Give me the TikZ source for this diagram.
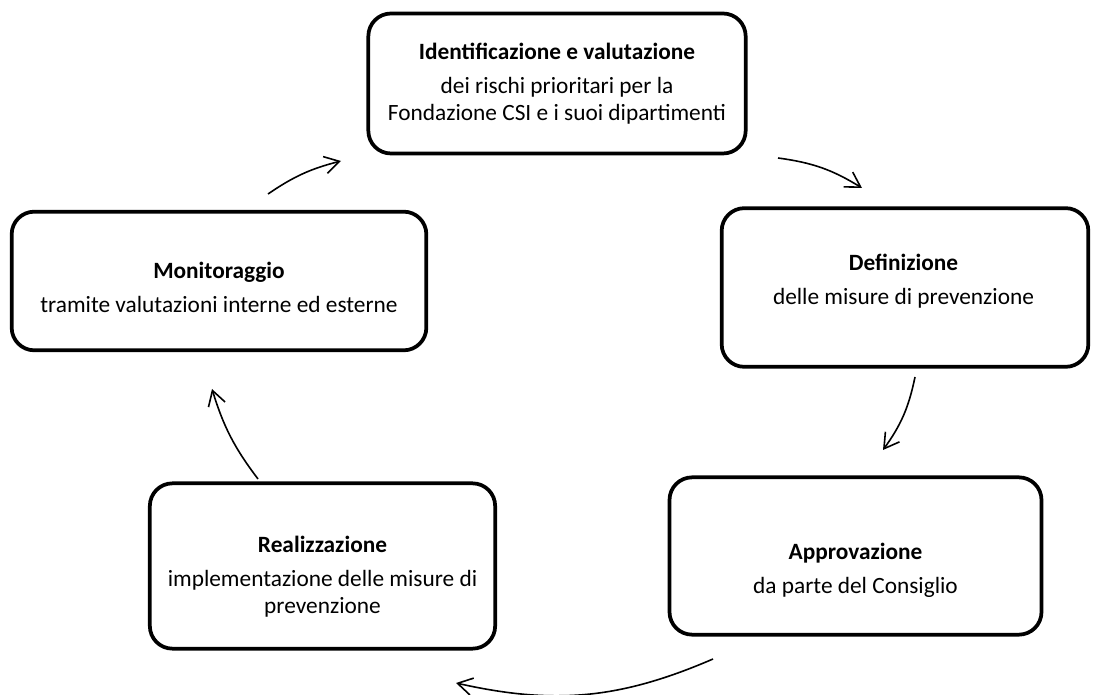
\documentclass[tikz,border=0pt]{standalone}
\usepackage{fontspec}
\setmainfont{Carlito}
\usetikzlibrary{arrows.meta}
\begin{document}
\begin{tikzpicture}[x=0.75pt,y=-0.75pt,
  stepbox/.style={draw=black,line width=2.8pt,rounded corners=17pt,inner sep=0pt},
  lbl/.style={align=center,font=\fontsize{17.5}{20.5}\selectfont,inner sep=0pt},
  flow/.style={line width=1.2pt,-{Straight Barb[length=11pt,width=13pt,line width=1.2pt]}}
]
\useasboundingbox (0,0) rectangle (1097,695);
% boxes
\node[stepbox,minimum width=283pt,minimum height=105pt] (b1) at (557,83.5) {};
\node[stepbox,minimum width=275pt,minimum height=119pt] (b2) at (905,287.5) {};
\node[stepbox,minimum width=279pt,minimum height=118pt] (b3) at (855.5,556) {};
\node[stepbox,minimum width=259pt,minimum height=124pt] (b4) at (322.5,566) {};
\node[stepbox,minimum width=311pt,minimum height=104pt] (b5) at (219,281) {};
% labels
\node[lbl] (t1) at (557,84) {\textbf{Identificazione e valutazione}\\[5pt]dei rischi prioritari per la\\Fondazione CSI e i suoi dipartimenti};
\node[lbl] (t2) at (903.5,281) {\textbf{Definizione}\\[5pt]delle misure di prevenzione};
\node[lbl] (t3) at (855.5,570) {\textbf{Approvazione}\\[5pt]da parte del Consiglio};
\node[lbl] (t4) at (322.5,577) {\textbf{Realizzazione}\\[5pt]implementazione delle misure di\\prevenzione};
\node[lbl] (t5) at (219,287) {\textbf{Monitoraggio}\\[5pt]tramite valutazioni interne ed esterne};
% connector end points
\coordinate (a1s) at (778,158); \coordinate (a1e) at (862,188);
\coordinate (a2s) at (915,377); \coordinate (a2e) at (883,450);
\coordinate (a3s) at (713,659); \coordinate (a3e) at (456,683);
\coordinate (a4s) at (258,479); \coordinate (a4e) at (212,389);
\coordinate (a5s) at (268,194); \coordinate (a5e) at (341,161);
\draw[flow] (a1s) to[bend left=12] (a1e);
\draw[flow] (a2s) to[bend left=12] (a2e);
\draw[flow] (a3s) to[bend left=18] (a3e);
\draw[flow] (a4s) to[bend left=10] (a4e);
\draw[flow] (a5s) to[bend left=10] (a5e);
\end{tikzpicture}
\end{document}
